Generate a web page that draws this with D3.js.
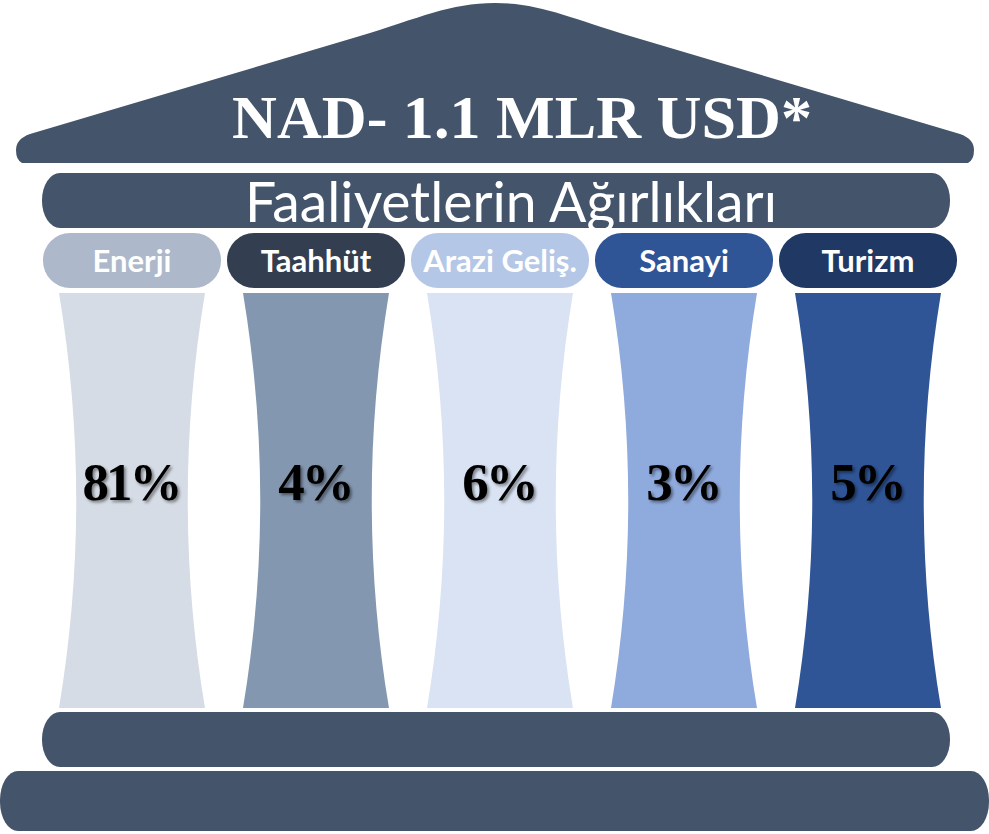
<!DOCTYPE html>
<html lang="tr">
<head>
  <meta charset="UTF-8">
  <style>
    body {
      margin: 0;
      overflow: hidden;
      background: #fff;
    }

    svg {
      display: block;
    }

    .band {
      fill: #44546a;
    }

    .pill-label {
      font-family: Lato, "Open Sans", sans-serif;
      font-weight: bold;
      font-size: 31px;
      fill: #fff;
      text-anchor: middle;
    }

    .pct {
      font-family: "Liberation Serif", "DejaVu Serif", serif;
      font-weight: bold;
      font-size: 53px;
      letter-spacing: -3px;
      fill: #000;
      text-anchor: middle;
    }
  </style>
  <script src="https://d3js.org/d3.v7.min.js"></script>
</head>
<body>

<svg id="temple"></svg>

<script>
  // chart data
  const categories = ["Enerji", "Taahhüt", "Arazi Geliş.", "Sanayi", "Turizm"];
  const shares = [81, 4, 6, 3, 5];
  const pillColors = ["#adb9ca", "#333f50", "#b4c7e7", "#2f5597", "#203864"];
  const columnColors = ["#d6dce5", "#8497b0", "#dae3f3", "#8faadc", "#2f5597"];
  const title = "NAD- 1.1 MLR USD*";
  const subtitle = "Faaliyetlerin Ağırlıkları";

  const width = 989, height = 834;

  const svg = d3.select("#temple")
    .attr("width", width)
    .attr("height", height);

  const defs = svg.append("defs");
  const shadow = defs.append("filter")
    .attr("id", "shadow")
    .attr("x", "-20%").attr("y", "-20%")
    .attr("width", "140%").attr("height", "140%");
  shadow.append("feDropShadow")
    .attr("dx", 2).attr("dy", 2)
    .attr("stdDeviation", 1.5)
    .attr("flood-color", "#000")
    .attr("flood-opacity", 0.45);

  // column centres
  const x = d3.scalePoint()
    .domain(categories)
    .range([132, 868]);

  const pillFill = d3.scaleOrdinal().domain(categories).range(pillColors);
  const colFill = d3.scaleOrdinal().domain(categories).range(columnColors);

  // roof
  svg.append("path")
    .attr("class", "band")
    .attr("d", "M22,163 Q16,160 16,150 Q16,139 30,134 L360,36 C420,18 450,3 495,3" +
      " C540,3 570,18 630,36 L960,134 Q974,139 974,150 Q974,160 968,163 Z");

  svg.append("text")
    .attr("x", 522)
    .attr("y", 138)
    .attr("text-anchor", "middle")
    .attr("font-family", "'Liberation Serif', serif")
    .attr("font-weight", "bold")
    .attr("font-size", 61)
    .attr("fill", "#fff")
    .attr("textLength", 580)
    .attr("lengthAdjust", "spacingAndGlyphs")
    .text(title);

  // architrave
  svg.append("rect")
    .attr("class", "band")
    .attr("x", 42).attr("y", 173)
    .attr("width", 908).attr("height", 55)
    .attr("rx", 18).attr("ry", 27);

  svg.append("text")
    .attr("x", 511)
    .attr("y", 222)
    .attr("text-anchor", "middle")
    .attr("font-family", "Lato, sans-serif")
    .attr("font-size", 56)
    .attr("fill", "#fff")
    .attr("textLength", 532)
    .attr("lengthAdjust", "spacingAndGlyphs")
    .text(subtitle);

  // pills with category names
  const pillW = 178, pillTop = 233, pillH = 55;
  svg.selectAll(".pill")
    .data(categories)
    .join("rect")
    .attr("class", "pill")
    .attr("x", d => x(d) - pillW / 2)
    .attr("y", pillTop)
    .attr("width", pillW)
    .attr("height", pillH)
    .attr("rx", 27)
    .attr("fill", d => pillFill(d));

  svg.selectAll(".pill-label")
    .data(categories)
    .join("text")
    .attr("class", "pill-label")
    .attr("x", d => x(d))
    .attr("y", 272)
    .text(d => d);

  // columns with concave sides
  const colTop = 293, colBottom = 708, colW = 146, inset = 23;
  const h = colBottom - colTop;
  function columnPath(cx) {
    const l = cx - colW / 2, r = cx + colW / 2;
    return `M${l},${colTop} L${r},${colTop}` +
      ` C${r - inset},${colTop + h / 3} ${r - inset},${colTop + 2 * h / 3} ${r},${colBottom}` +
      ` L${l},${colBottom}` +
      ` C${l + inset},${colTop + 2 * h / 3} ${l + inset},${colTop + h / 3} ${l},${colTop} Z`;
  }

  svg.selectAll(".column")
    .data(categories)
    .join("path")
    .attr("class", "column")
    .attr("d", d => columnPath(x(d)))
    .attr("fill", d => colFill(d));

  svg.selectAll(".pct")
    .data(shares)
    .join("text")
    .attr("class", "pct")
    .attr("x", (d, i) => x(categories[i]) - 1)
    .attr("y", 500)
    .attr("filter", "url(#shadow)")
    .text(d => d + "%");

  // base steps
  svg.append("rect")
    .attr("class", "band")
    .attr("x", 42).attr("y", 712)
    .attr("width", 908).attr("height", 55)
    .attr("rx", 18).attr("ry", 27);

  svg.append("rect")
    .attr("class", "band")
    .attr("x", 0).attr("y", 771)
    .attr("width", 989).attr("height", 60)
    .attr("rx", 18).attr("ry", 29);
</script>

</body>
</html>
